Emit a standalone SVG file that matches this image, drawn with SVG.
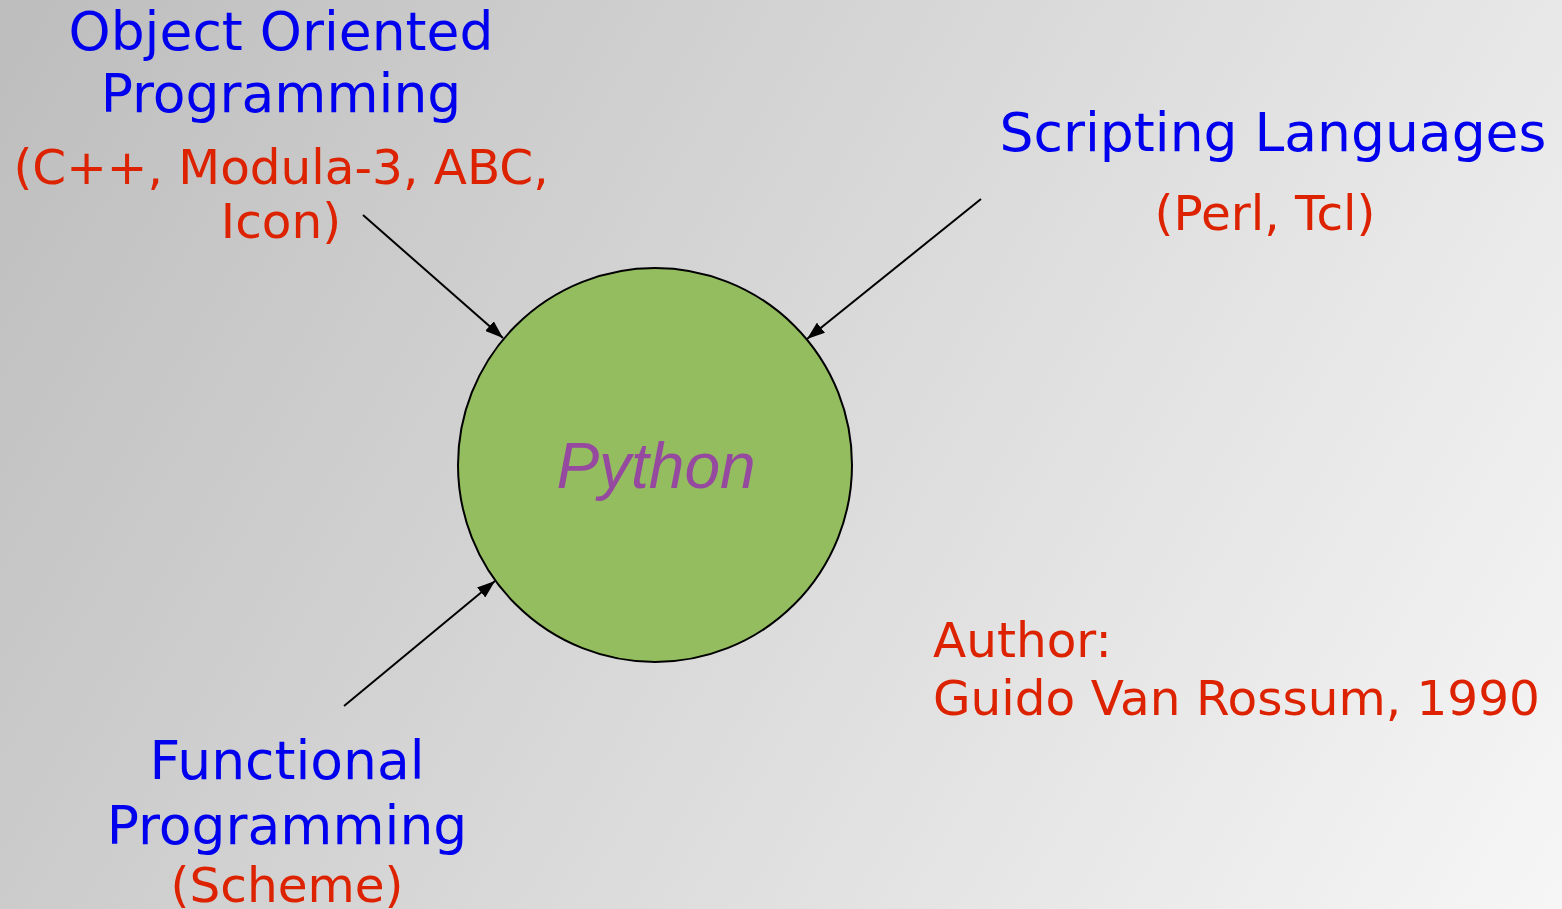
<svg xmlns="http://www.w3.org/2000/svg" width="1562" height="909" viewBox="0 0 1562 909">
<defs>
<linearGradient id="bg" x1="0" y1="0" x2="1562" y2="909" gradientUnits="userSpaceOnUse">
<stop offset="0" stop-color="#bdbdbd"/>
<stop offset="1" stop-color="#f6f6f6"/>
</linearGradient>
<marker id="arr" viewBox="0 0 18 13" refX="18" refY="6.5" markerWidth="18" markerHeight="13" markerUnits="userSpaceOnUse" orient="auto">
<path d="M0,0 L18,6.5 L0,13 z" fill="#000"/>
</marker>
</defs>
<style>
.t{font-family:"DejaVu Sans",sans-serif;text-anchor:middle}
.b{fill:#0000ee;font-size:53.5px}
.r{fill:#dd2200;font-size:48.5px}
.c{stroke:#000;stroke-width:2;fill:none;marker-end:url(#arr)}
.a{font-family:"DejaVu Sans",sans-serif;font-size:48.5px;fill:#dd2200}
</style>
<rect width="1562" height="909" fill="url(#bg)"/>
<g id="connectors">
<line class="c" x1="363" y1="215" x2="503" y2="338"/>
<line class="c" x1="981" y1="199" x2="807" y2="339"/>
<line class="c" x1="344" y1="706" x2="495" y2="581"/>
</g>
<g id="python">
<circle cx="655" cy="465" r="197" fill="#94bd5f" stroke="#000" stroke-width="2"/>
<text x="656" y="488" font-family="Liberation Sans, Arial, sans-serif" font-style="italic" font-size="64" fill="#954a9f" text-anchor="middle">Python</text>
</g>
<g id="oop">
<text class="t b" x="281" y="50">Object Oriented</text>
<text class="t b" x="281" y="112">Programming</text>
<text class="t r" x="281" y="184">(C++, Modula-3, ABC,</text>
<text class="t r" x="281" y="238">Icon)</text>
</g>
<g id="scripting">
<text class="t b" x="1273" y="151">Scripting Languages</text>
<text class="t r" x="1265" y="230">(Perl, Tcl)</text>
</g>
<g id="functional">
<text class="t b" x="287" y="779">Functional</text>
<text class="t b" x="287" y="844">Programming</text>
<text class="t r" x="287" y="902">(Scheme)</text>
</g>
<g id="author">
<text class="a" x="933" y="657">Author:</text>
<text class="a" x="933" y="715">Guido Van Rossum, 1990</text>
</g>
</svg>
